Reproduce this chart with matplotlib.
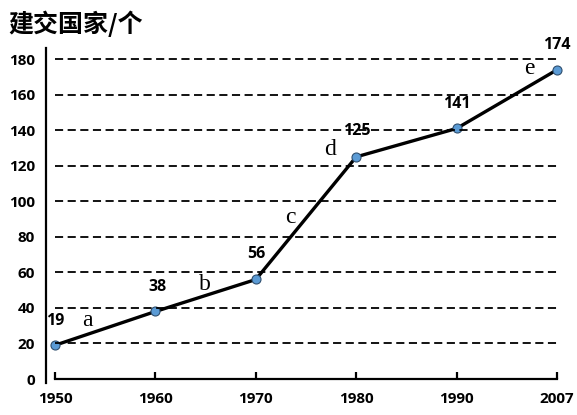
import matplotlib
matplotlib.use("Agg")
import matplotlib.pyplot as plt

years = ["1950", "1960", "1970", "1980", "1990", "2007"]
countries = [19, 38, 56, 125, 141, 174]
yticks = [0, 20, 40, 60, 80, 100, 120, 140, 160, 180]
stage_labels = ["a", "b", "c", "d", "e"]
stage_pos = [(0.32, 33), (1.49, 53), (2.34, 91), (2.74, 129), (4.73, 175)]
value_pos = [(0.0, 32.6), (1.02, 52), (2.01, 70.5), (3.01, 139.5), (4.0, 155), (5.0, 188)]

NUM_FONT = "Open Sans"

fig = plt.figure(figsize=(5.77, 4.15), dpi=100)
ax = fig.add_axes([0.0797, 0.0771, 0.974 - 0.0797, 0.884 - 0.0771])
x = list(range(len(years)))

ax.set_xlim(-0.09, 5.05)
ax.set_ylim(-2.25, 186.2)

ax.hlines(yticks[1:], 0, 5, colors="black", linestyles=(0, (4.5, 2.5)), linewidth=1.3, zorder=5)
ax.plot(x, countries, color="black", linewidth=2.4, zorder=3,
        marker="o", markersize=6.5, markerfacecolor="#5B9BD5", markeredgecolor="#2F4F6F",
        markeredgewidth=0.8)

for s in ["top", "right"]:
    ax.spines[s].set_visible(False)
ax.spines["left"].set_linewidth(1.6)
ax.spines["bottom"].set_linewidth(1.6)
ax.spines["bottom"].set_bounds(0, 5)
ax.spines["bottom"].set_position(("data", 0))

ax.set_xticks(x)
ax.set_xticklabels(years)
ax.set_yticks(yticks)
for lab in ax.get_xticklabels() + ax.get_yticklabels():
    lab.set_fontfamily(NUM_FONT)
    lab.set_fontweight("bold")
    lab.set_fontsize(11)
ax.tick_params(axis="x", direction="in", length=5, width=1.6, pad=9)
ax.tick_params(axis="y", length=0, pad=8)

for (px, py), v in zip(value_pos, countries):
    ax.text(px, py, str(v), ha="center", va="center", fontfamily=NUM_FONT,
            fontweight="bold", fontsize=11.5, clip_on=False, zorder=4)

for (px, py), s in zip(stage_pos, stage_labels):
    ax.text(px, py, s, ha="center", va="center", fontfamily="Liberation Serif",
            fontsize=17, zorder=4)

fig.text(0.014, 0.943, "建交国家/个", ha="left", va="center",
         fontfamily=["Noto Sans CJK SC", "DejaVu Sans"], fontweight="bold", fontsize=18)

fig.savefig("out.png", dpi=100)
